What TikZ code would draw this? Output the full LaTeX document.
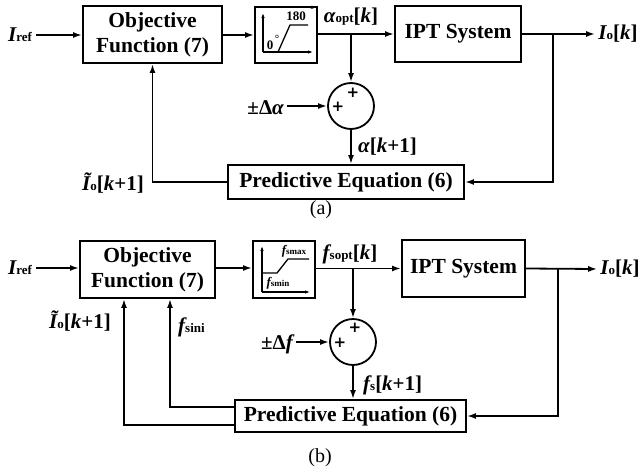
\documentclass[tikz,border=0pt]{standalone}
\usepackage{fontspec}
\setmainfont{Liberation Serif}
\newfontfamily\plusfont{DejaVu Sans}
\usetikzlibrary{arrows.meta}
\newcommand\sbs[1]{{\fontsize{13}{13}\selectfont\bfseries\upshape #1}}
\newcommand\ssbs[1]{{\fontsize{9}{9}\selectfont\bfseries\upshape #1}}
\newcommand\bi[1]{{\bfseries\itshape #1}}
\begin{document}
\begin{tikzpicture}[x=1pt,y=-1pt,
 blk/.style={draw, line width=1.9pt, font=\fontsize{21.5}{25}\selectfont\bfseries, align=center, inner sep=0pt},
 ico/.style={draw, line width=1.9pt, inner sep=0pt},
 sumc/.style={draw, circle, line width=1.8pt, minimum size=46pt, inner sep=0pt},
 lbl/.style={font=\fontsize{21}{24}\selectfont\bfseries, inner sep=0pt},
 plus/.style={font=\plusfont\bfseries\fontsize{15}{15}\selectfont, inner sep=0pt},
 small/.style={font=\fontsize{13}{13}\selectfont\bfseries, inner sep=0pt},
 deg/.style={font=\fontsize{11}{11}\selectfont\bfseries, inner sep=0pt},
 wire/.style={line width=1.8pt},
 arr/.style={wire, -{Latex[length=9pt,width=6pt]}},
 thinl/.style={line width=1.3pt},
 tarr/.style={thinl, -{Latex[length=5pt,width=3.5pt]}}]
\useasboundingbox (0,0) rectangle (641,472);

% ---------------- (a) ----------------
\node[blk, minimum width=139pt, minimum height=57pt] (objA) at (152.5,34.5) {Objective\\Function (7)};
\node[ico, minimum width=62pt, minimum height=56pt] (icoA) at (286,35) {};
\node[blk, minimum width=126pt, minimum height=56pt] (iptA) at (458,34) {IPT System};
\node[sumc] (sumA) at (351,106) {};
\node[blk, minimum width=236pt, minimum height=34pt] (predA) at (346,182) {Predictive Equation (6)};

\node[lbl] (irefA) at (20,35) {\bi{I}\sbs{ref}};
\node[lbl] (aopt) at (351,17) {\bi{α}\sbs{opt}[\bi{k}]};
\node[lbl] (ioA) at (618,34) {\bi{I}\sbs{o}[\bi{k}]};
\node[lbl, anchor=east] (dA) at (284,108) {±Δ\bi{α}};
\node[lbl, anchor=west] (akA) at (358,147) {\bi{α}[\bi{k}+1]};
\node[lbl, anchor=east] (itA) at (144,183) {\bi{Ĩ}\sbs{o}[\bi{k}+1]};
\node[font=\fontsize{20}{22}\selectfont, inner sep=0pt] (capA) at (321,210) {(a)};
\node[plus] (pA1) at (353,93) {+};
\node[plus] (pA2) at (338,107) {+};

% icon a
\coordinate (oA) at (263,52);
\draw[tarr] (oA) -- (263,13);
\draw[tarr] (oA) -- (313,52);
\draw[thinl] (oA) -- (278,52) -- (290,25) -- (308,25);
\node[small] (t180) at (296,16) {180};
\node[deg] (d180) at (312,10) {°};
\node[small] (t0) at (270,45) {0};
\node[deg] (d0) at (277,39) {°};

% connectors a
\draw[arr] ([xshift=4pt]irefA.east) -- (objA.west |- irefA.east);
\draw[arr] (objA.east |- icoA.west) -- (icoA.west);
\draw[arr] (icoA.east |- iptA.west) -- (iptA.west);
\coordinate (brA) at (sumA.north |- iptA.west);
\draw[arr] (brA) -- (sumA.north);
\draw[arr] (iptA.east) -- ([xshift=-3pt]ioA.west);
\coordinate (brA2) at (553,34);
\draw[arr] (brA2) |- (predA.east);
\draw[arr] (predA.west) -| (objA.south);
\draw[arr] ([xshift=3pt]dA.east |- sumA.west) -- (sumA.west);
\draw[arr] (sumA.south) -- (sumA.south |- predA.north);

% ---------------- (b) ----------------
\node[blk, minimum width=135pt, minimum height=57pt] (objB) at (147.5,269.5) {Objective\\Function (7)};
\node[ico, minimum width=62pt, minimum height=57pt] (icoB) at (284,269.5) {};
\node[blk, minimum width=123pt, minimum height=57pt] (iptB) at (463.5,268.5) {IPT System};
\node[sumc] (sumB) at (353,342) {};
\node[blk, minimum width=231pt, minimum height=32pt] (predB) at (350.5,416) {Predictive Equation (6)};

\node[lbl] (irefB) at (20,268) {\bi{I}\sbs{ref}};
\node[lbl] (fsopt) at (350,254) {\bi{f}\sbs{sopt}[\bi{k}]};
\node[lbl] (ioB) at (620,269) {\bi{I}\sbs{o}[\bi{k}]};
\node[lbl, anchor=east] (dB) at (293,344) {±Δ\bi{f}};
\node[lbl, anchor=west] (fsk) at (363,385) {\bi{f}\sbs{s}[\bi{k}+1]};
\node[lbl] (itB) at (80,321) {\bi{Ĩ}\sbs{o}[\bi{k}+1]};
\node[lbl, anchor=west] (fsini) at (178,327) {\bi{f}\sbs{sini}};
\node[font=\fontsize{20}{22}\selectfont, inner sep=0pt] (capB) at (320,458) {(b)};
\node[plus] (pB1) at (355,328) {+};
\node[plus] (pB2) at (340,343) {+};

% icon b
\coordinate (oB) at (262,292);
\draw[tarr] (oB) -- (262,246);
\draw[tarr] (oB) -- (310,292);
\draw[thinl] (262,273) -- (277,273) -- (288,259) -- (309,259);
\node[inner sep=0pt] (fmax) at (294,251) {{\fontsize{13}{13}\selectfont\bi{f}}\ssbs{smax}};
\node[inner sep=0pt] (fmin) at (278,283) {{\fontsize{13}{13}\selectfont\bi{f}}\ssbs{smin}};

% connectors b
\draw[arr] ([xshift=4pt]irefB.east) -- (objB.west |- irefB.east);
\draw[arr] (objB.east |- irefB.east) -- (icoB.west |- irefB.east);
\draw[arr] (icoB.east |- iptB.west) -- (iptB.west);
\coordinate (brB) at (sumB.north |- iptB.west);
\draw[arr] (brB) -- (sumB.north);
\draw[arr] (iptB.east) -- ([xshift=-3pt]ioB.west);
\coordinate (brB2) at (558,268.5);
\draw[arr] (brB2) |- (predB.east);
\draw[arr] ([yshift=-9pt]predB.west) -| ([xshift=-23.5pt]objB.south);
\draw[arr] ([yshift=9pt]predB.west) -| ([xshift=22.5pt]objB.south);
\draw[arr] ([xshift=3pt]dB.east |- sumB.west) -- (sumB.west);
\draw[arr] (sumB.south) -- (sumB.south |- predB.north);
\end{tikzpicture}
\end{document}
